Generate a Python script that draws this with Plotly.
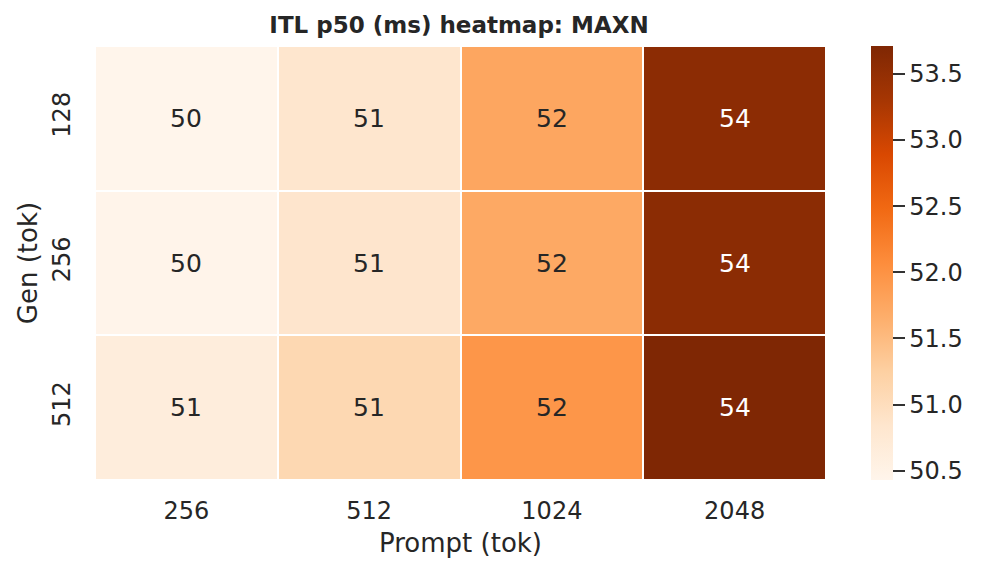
import plotly.graph_objects as go

# ITL p50 (ms), rows = gen tokens, cols = prompt tokens
prompt_tok = ["256", "512", "1024", "2048"]
gen_tok = ["128", "256", "512"]
itl_128 = [50.43, 50.84, 51.76, 53.57]
itl_256 = [50.45, 50.85, 51.72, 53.58]
itl_512 = [50.64, 51.10, 51.96, 53.71]
cbar_ticks = [50.5, 51.0, 51.5, 52.0, 52.5, 53.0, 53.5]

z = [itl_128, itl_256, itl_512]
zmin = min(min(r) for r in z)
zmax = max(max(r) for r in z)

fig = go.Figure()
fig.add_trace(go.Heatmap(
    z=z, x=prompt_tok, y=gen_tok,
    colorscale="Oranges",
    zmin=zmin, zmax=zmax,
    xgap=2, ygap=2,
    hoverinfo="skip",
    colorbar=dict(
        x=1.0616, xanchor="left", y=0.5, yanchor="middle",
        len=1.0, lenmode="fraction", thickness=22,
        outlinewidth=0, ypad=0, xpad=0,
        tickvals=cbar_ticks,
        ticktext=[f"{t:.1f}" for t in cbar_ticks],
        ticks="outside", ticklen=12, tickwidth=2, tickcolor="#333333",
        tickfont=dict(size=24, color="#262626"),
    ),
))

# cell labels, white on dark cells like seaborn does
# (category index positions: numeric-looking names would be read as indices)
for i, row in enumerate(z):
    for j, v in enumerate(row):
        t = (v - zmin) / (zmax - zmin)
        fig.add_annotation(
            x=j, y=i, text=f"{v:.0f}",
            showarrow=False,
            font=dict(size=25, color="white" if t > 0.6 else "#262626"),
        )

# page body has an 8px margin, so pull everything up/left by 8
fig.update_layout(
    width=981, height=573,
    margin=dict(l=87, r=163, t=38, b=101, autoexpand=False),
    paper_bgcolor="white", plot_bgcolor="white",
    font=dict(family="DejaVu Sans", color="#262626"),
    title=dict(text="<b>ITL p50 (ms) heatmap: MAXN</b>", xref="paper", x=0.498, xanchor="center",
               yref="container", y=0.970, yanchor="middle", font=dict(size=23, color="#262626")),
)
fig.update_xaxes(type="category", range=[-0.5, len(prompt_tok) - 0.5],
                 title=dict(text="Prompt (tok)", font=dict(size=26), standoff=10),
                 tickfont=dict(size=24), showgrid=False, zeroline=False,
                 ticks="outside", ticklen=9, tickcolor="rgba(0,0,0,0)")
fig.update_yaxes(type="category", range=[len(gen_tok) - 0.5, -0.5],
                 title=dict(text="Gen (tok)", font=dict(size=26), standoff=3),
                 tickfont=dict(size=24), tickangle=-90,
                 showgrid=False, zeroline=False,
                 ticks="outside", ticklen=14, tickcolor="rgba(0,0,0,0)")

fig.write_html("out.html")
